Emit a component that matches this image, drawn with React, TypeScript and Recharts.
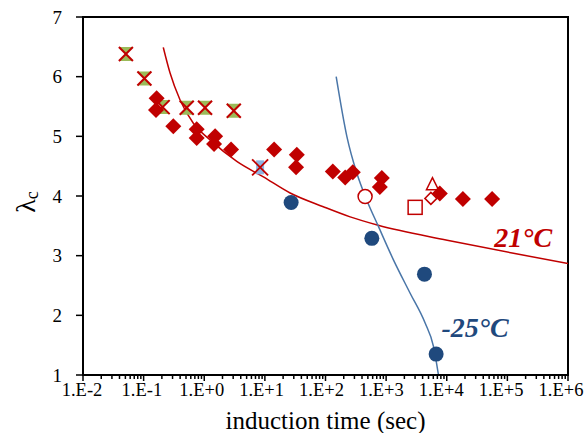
import {
  ComposedChart,
  Line,
  Scatter,
  XAxis,
  YAxis,
  ReferenceArea,
  ReferenceDot,
  Label,
} from "recharts";

const FONT = "'Liberation Serif', 'Times New Roman', serif";
const RED = "#C00000";
const NAVY = "#1F497D";
const STEEL = "#4A76A8";

// tick labels (log decades) and minor ticks
const majorTicks = [1e-2, 1e-1, 1, 1e1, 1e2, 1e3, 1e4, 1e5, 1e6];
const minorMult = [2, 3, 4, 5, 6, 7, 8, 9];
const yTicks = [1, 2, 3, 4, 5, 6, 7];

// green hourglass / red X markers
const hourglassTime = [0.051, 0.103, 0.206, 0.514, 1.03, 3.07];
const hourglassLambda = [6.38, 5.97, 5.49, 5.48, 5.48, 5.43];

// blue square with red X
const blueXTime = [8.34];
const blueXLambda = [4.48];

// filled red diamonds (21°C)
const diamondTime = [
  0.164, 0.16, 0.309, 0.75, 0.75, 1.51, 1.45, 2.77, 14.2, 33.6, 32.7, 132, 211,
  282, 849, 787, 7690, 18450, 56100,
];
const diamondLambda = [
  5.64, 5.44, 5.17, 5.12, 4.97, 5.0, 4.87, 4.78, 4.78, 4.69, 4.48, 4.41, 4.31,
  4.4, 4.3, 4.15, 4.04, 3.95, 3.95,
];

// open markers
const openCircleTime = [450];
const openCircleLambda = [3.99];
const openSquareTime = [3010];
const openSquareLambda = [3.81];
const openTriangleTime = [5810];
const openTriangleLambda = [4.19];
const openDiamondTime = [5470];
const openDiamondLambda = [3.96];

// -25°C filled circles
const coldTime = [27.1, 581, 4290, 6680];
const coldLambda = [3.89, 3.29, 2.69, 1.35];

// fitted curves
const warmCurveTime = [
  0.211, 0.273, 0.399, 0.661, 1.25, 3.44, 9.45, 26.1, 92, 255, 738, 10160,
  126000, 1000000,
];
const warmCurveLambda = [
  6.49, 6.06, 5.61, 5.22, 4.94, 4.58, 4.32, 4.05, 3.82, 3.65, 3.51, 3.26, 3.04,
  2.87,
];
const coldCurveTime = [150, 225, 329, 480, 746, 1320, 2490, 4400, 6040, 7300];
const coldCurveLambda = [6.0, 5.0, 4.38, 3.93, 3.49, 2.93, 2.37, 1.87, 1.48, 1.0];

const pts = (xs: number[], ys: number[]) => xs.map((x, i) => ({ x, y: ys[i] }));

const allXTicks = [
  ...majorTicks,
  ...majorTicks.slice(0, -1).flatMap((d) => minorMult.map((m) => d * m)),
].sort((a, b) => a - b);

const fmtExp = (v: number) => {
  const e = Math.round(Math.log10(v));
  return `1.E${e >= 0 ? "+" : "-"}${Math.abs(e)}`;
};

function XTick(props: any) {
  const { x, y, payload } = props;
  const v = payload.value;
  const e = Math.log10(v);
  const major = Math.abs(e - Math.round(e)) < 1e-6;
  // excel packs the labels a bit tighter than the ticks
  const shift = -1 - 0.75 * (Math.round(e) + 2);
  return (
    <g>
      <line x1={x} x2={x} y1={y} y2={y + (major ? 6 : 4)} stroke="#000" strokeWidth={1.5} />
      {major && (
        <text x={x + shift} y={y + 21} textAnchor="middle" fontFamily={FONT} fontSize={18.5} fill="#000">
          {fmtExp(v)}
        </text>
      )}
    </g>
  );
}

const Hourglass = (p: any) => {
  const { cx, cy } = p;
  const s = 7;
  return (
    <g>
      <polygon
        points={`${cx - s},${cy - s} ${cx + s},${cy - s} ${cx},${cy} ${cx + s},${cy + s} ${cx - s},${cy + s} ${cx},${cy}`}
        fill="#9BBB59"
      />
      <line x1={cx - s} y1={cy - s} x2={cx + s} y2={cy + s} stroke={RED} strokeWidth={2} />
      <line x1={cx + s} y1={cy - s} x2={cx - s} y2={cy + s} stroke={RED} strokeWidth={2} />
    </g>
  );
};

const BlueX = (p: any) => {
  const { cx, cy } = p;
  const s = 8;
  return (
    <g>
      <rect x={cx - 4} y={cy - 7} width={8} height={14} fill="#8DB4E2" />
      <line x1={cx - s} y1={cy - s} x2={cx + s} y2={cy + s} stroke={RED} strokeWidth={1.8} />
      <line x1={cx + s} y1={cy - s} x2={cx - s} y2={cy + s} stroke={RED} strokeWidth={1.8} />
    </g>
  );
};

const Diamond = (p: any) => {
  const { cx, cy } = p;
  const s = 8;
  return (
    <polygon
      points={`${cx},${cy - s} ${cx + s},${cy} ${cx},${cy + s} ${cx - s},${cy}`}
      fill={RED}
    />
  );
};

const OpenCircle = (p: any) => (
  <circle cx={p.cx} cy={p.cy} r={7} fill="#fff" stroke={RED} strokeWidth={1.5} />
);
const OpenSquare = (p: any) => (
  <rect x={p.cx - 7} y={p.cy - 7} width={14} height={14} fill="#fff" stroke={RED} strokeWidth={1.5} />
);
const OpenTriangle = (p: any) => (
  <polygon
    points={`${p.cx},${p.cy - 7} ${p.cx + 6},${p.cy + 5} ${p.cx - 6},${p.cy + 5}`}
    fill="#fff"
    stroke={RED}
    strokeWidth={1.5}
  />
);
const OpenDiamond = (p: any) => (
  <polygon
    points={`${p.cx},${p.cy - 6} ${p.cx + 6},${p.cy} ${p.cx},${p.cy + 6} ${p.cx - 6},${p.cy}`}
    fill="#fff"
    stroke={RED}
    strokeWidth={1.5}
  />
);
const Dot = (p: any) => <circle cx={p.cx} cy={p.cy} r={7.5} fill={NAVY} />;

export default function App() {
  return (
    <div style={{ position: "absolute", left: 0, top: 0, background: "#fff" }}>
      <ComposedChart
        width={587}
        height={433}
        margin={{ top: 17, right: 19, left: 0, bottom: 0 }}
      >
        <XAxis
          dataKey="x"
          type="number"
          scale="log"
          domain={[0.01, 1e6]}
          allowDataOverflow
          ticks={allXTicks}
          interval={0}
          tick={<XTick />}
          tickSize={0}
          tickMargin={0}
          axisLine={{ stroke: "#000", strokeWidth: 2 }}
          height={58}
        >
          <Label
            value="induction time (sec)"
            position="insideBottom"
            offset={4}
            fontFamily={FONT}
            fontSize={25}
            fill="#000"
          />
        </XAxis>
        <YAxis
          dataKey="y"
          type="number"
          domain={[1, 7]}
          ticks={yTicks}
          interval={0}
          allowDataOverflow
          width={83}
          tickSize={7}
          tickMargin={14}
          tick={{ fontFamily: FONT, fontSize: 19, fill: "#000" }}
          tickLine={{ stroke: "#000", strokeWidth: 1.5 }}
          axisLine={{ stroke: "#000", strokeWidth: 2 }}
          label={{
            content: () => (
              <text
                transform="rotate(-90)"
                x={-202}
                y={35}
                textAnchor="middle"
                fontFamily={FONT}
                fontSize={28}
                fill="#000"
              >
                λ
                <tspan fontSize={18} dy={3}>
                  c
                </tspan>
              </text>
            ),
          }}
        />
        <ReferenceArea
          x1={0.01}
          x2={1e6}
          y1={1}
          y2={7}
          fill="none"
          stroke="#000"
          strokeWidth={2}
          ifOverflow="visible"
        />
        <Line
          data={pts(warmCurveTime, warmCurveLambda)}
          dataKey="y"
          type="monotone"
          stroke={RED}
          strokeWidth={1.5}
          dot={false}
          isAnimationActive={false}
        />
        <Line
          data={pts(coldCurveTime, coldCurveLambda)}
          dataKey="y"
          type="monotone"
          stroke={STEEL}
          strokeWidth={1.5}
          dot={false}
          isAnimationActive={false}
        />
        <Scatter data={pts(hourglassTime, hourglassLambda)} shape={Hourglass} isAnimationActive={false} />
        <Scatter data={pts(blueXTime, blueXLambda)} shape={BlueX} isAnimationActive={false} />
        <Scatter data={pts(openCircleTime, openCircleLambda)} shape={OpenCircle} isAnimationActive={false} />
        <Scatter data={pts(openSquareTime, openSquareLambda)} shape={OpenSquare} isAnimationActive={false} />
        <Scatter data={pts(openTriangleTime, openTriangleLambda)} shape={OpenTriangle} isAnimationActive={false} />
        <Scatter data={pts(openDiamondTime, openDiamondLambda)} shape={OpenDiamond} isAnimationActive={false} />
        <Scatter data={pts(diamondTime, diamondLambda)} shape={Diamond} isAnimationActive={false} />
        <Scatter data={pts(coldTime, coldLambda)} shape={Dot} isAnimationActive={false} />
        <ReferenceDot x={182000} y={3.31} r={0} fill="none" stroke="none">
          <Label
            value="21°C"
            position="center"
            fill={RED}
            fontFamily={FONT}
            fontSize={28}
            fontStyle="italic"
            fontWeight="bold"
          />
        </ReferenceDot>
        <ReferenceDot x={29400} y={1.81} r={0} fill="none" stroke="none">
          <Label
            value="-25°C"
            position="center"
            fill={NAVY}
            fontFamily={FONT}
            fontSize={28}
            fontStyle="italic"
            fontWeight="bold"
          />
        </ReferenceDot>
      </ComposedChart>
    </div>
  );
}
